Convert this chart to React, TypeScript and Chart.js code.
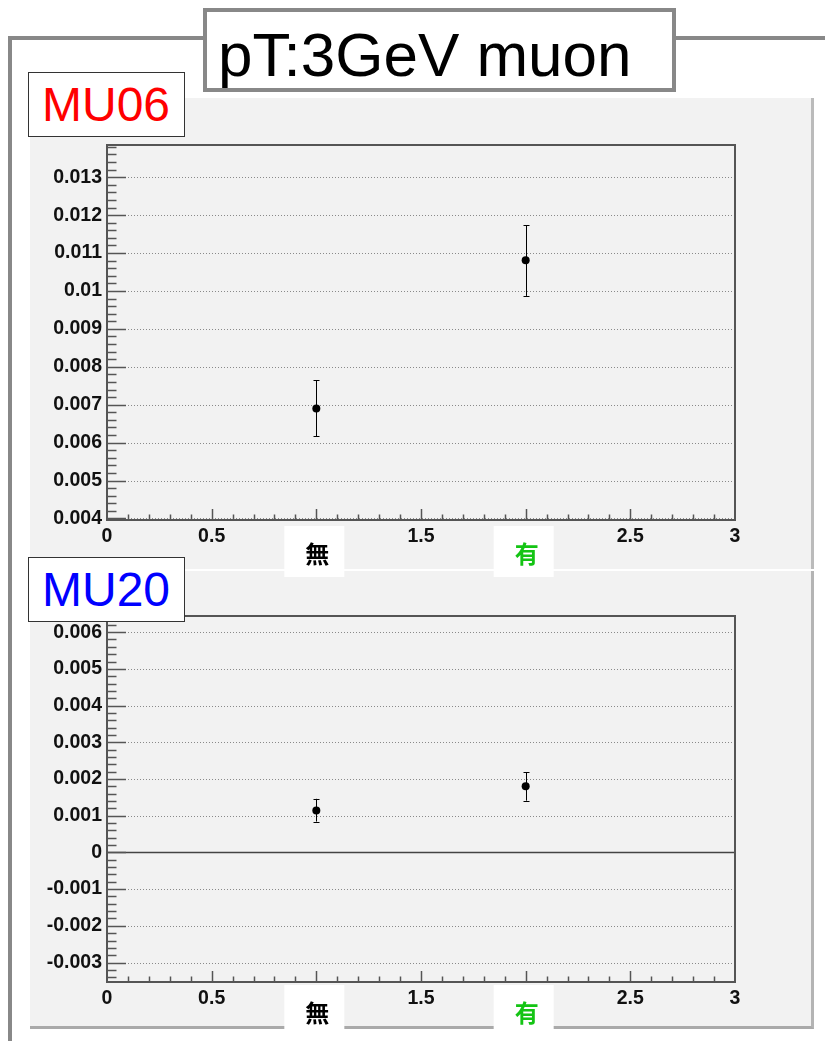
import React, { useEffect, useRef } from "react";
import { Chart, registerables } from "chart.js";

Chart.register(...registerables);

// ---- data ----
const xTickValues = [0, 0.5, 1.5, 2.5, 3];
const xTickLabels = ["0", "0.5", "1.5", "2.5", "3"];
const categories = ["無", "有"];
const categoryX = [1, 2];
const categoryColors = ["#000000", "#14c414"];

const mu06Values = [0.0069, 0.01081];
const mu06ErrLow = [0.00617, 0.00987];
const mu06ErrHigh = [0.00765, 0.01173];
const mu06YTicks = [0.004, 0.005, 0.006, 0.007, 0.008, 0.009, 0.01, 0.011, 0.012, 0.013];
const mu06YLabels = ["0.004", "0.005", "0.006", "0.007", "0.008", "0.009", "0.01", "0.011", "0.012", "0.013"];
const mu06YRange = [0.00396, 0.01385];

const mu20Values = [0.00114, 0.0018];
const mu20ErrLow = [0.00084, 0.00141];
const mu20ErrHigh = [0.00146, 0.00218];
const mu20YTicks = [-0.003, -0.002, -0.001, 0, 0.001, 0.002, 0.003, 0.004, 0.005, 0.006];
const mu20YLabels = ["-0.003", "-0.002", "-0.001", "0", "0.001", "0.002", "0.003", "0.004", "0.005", "0.006"];
const mu20YRange = [-0.00353, 0.00644];

const TICK_FONT = { family: '"Liberation Sans", Arial, sans-serif', size: 19.5, weight: "bold" as const };

type PanelProps = {
  values: number[];
  lows: number[];
  highs: number[];
  yTicks: number[];
  yLabels: string[];
  yRange: number[];
  height: number;
  padTop: number;
  padBottom: number;
  boxTop: number;
  textOffset: number;
  zeroLine: boolean;
};

function Panel(p: PanelProps) {
  const ref = useRef<HTMLCanvasElement | null>(null);
  useEffect(() => {
    if (!ref.current) return;
    const rootPlugin = {
      id: "rootStyle",
      beforeDatasetsDraw(chart: any) {
        const ctx = chart.ctx;
        const a = chart.chartArea;
        const xs = chart.scales.x;
        const ys = chart.scales.y;
        ctx.save();
        // grid lines
        p.yTicks.forEach((v) => {
          const y = Math.round(ys.getPixelForValue(v)) + 0.5;
          ctx.beginPath();
          if (p.zeroLine && v === 0) {
            ctx.setLineDash([]);
            ctx.strokeStyle = "#444";
            ctx.lineWidth = 1.5;
          } else {
            ctx.setLineDash([1, 2]);
            ctx.strokeStyle = "#8a8a8a";
            ctx.lineWidth = 1;
          }
          ctx.moveTo(a.left, y);
          ctx.lineTo(a.right, y);
          ctx.stroke();
        });
        ctx.setLineDash([]);
        // error bars
        ctx.strokeStyle = "#000";
        ctx.lineWidth = 1;
        p.values.forEach((_, i) => {
          const x = Math.round(xs.getPixelForValue(categoryX[i])) + 0.5;
          const y1 = ys.getPixelForValue(p.lows[i]);
          const y2 = ys.getPixelForValue(p.highs[i]);
          ctx.beginPath();
          ctx.moveTo(x, y1);
          ctx.lineTo(x, y2);
          ctx.moveTo(x - 3, Math.round(y1) + 0.5);
          ctx.lineTo(x + 3, Math.round(y1) + 0.5);
          ctx.moveTo(x - 3, Math.round(y2) + 0.5);
          ctx.lineTo(x + 3, Math.round(y2) + 0.5);
          ctx.stroke();
        });
        ctx.restore();
      },
      afterDraw(chart: any) {
        const ctx = chart.ctx;
        const a = chart.chartArea;
        const xs = chart.scales.x;
        const ys = chart.scales.y;
        ctx.save();
        ctx.strokeStyle = "#555";
        ctx.lineWidth = 1.5;
        // inner ticks on y
        const minor = 0.0002;
        const start = Math.ceil(p.yRange[0] / minor - 1e-6);
        const end = Math.floor(p.yRange[1] / minor + 1e-6);
        for (let k = start; k <= end; k++) {
          const y = Math.round(ys.getPixelForValue(k * minor)) + 0.5;
          const len = k % 5 === 0 ? 19 : 9.5;
          ctx.beginPath();
          ctx.moveTo(a.left, y);
          ctx.lineTo(a.left + len, y);
          ctx.stroke();
        }
        // inner ticks on x
        for (let k = 1; k < 30; k++) {
          const x = Math.round(xs.getPixelForValue(k * 0.1)) + 0.5;
          const len = k % 5 === 0 ? 11 : 5.5;
          ctx.beginPath();
          ctx.moveTo(x, a.bottom);
          ctx.lineTo(x, a.bottom - len);
          ctx.stroke();
        }
        // frame
        ctx.lineWidth = 2;
        ctx.strokeStyle = "#555";
        ctx.strokeRect(a.left, a.top, a.right - a.left, a.bottom - a.top);
        // category boxes
        categories.forEach((c, i) => {
          const x = xs.getPixelForValue(categoryX[i]);
          ctx.fillStyle = "#ffffff";
          ctx.fillRect(x - 32, a.bottom + p.boxTop, 60, 51);
          ctx.fillStyle = categoryColors[i];
          ctx.font = 'bold 24px "Noto Sans CJK JP", sans-serif';
          ctx.textAlign = "center";
          ctx.textBaseline = "middle";
          ctx.fillText(c, x + 1, a.bottom + p.textOffset);
        });
        ctx.restore();
      },
    };
    const chart = new Chart(ref.current, {
      type: "scatter",
      data: {
        datasets: [
          {
            data: p.values.map((v, i) => ({ x: categoryX[i], y: v })),
            pointRadius: 4,
            pointBackgroundColor: "#000",
            pointBorderWidth: 0,
            showLine: false,
          },
        ],
      },
      options: {
        animation: false,
        responsive: false,
        maintainAspectRatio: false,
        devicePixelRatio: 1,
        layout: { padding: { left: 47, right: 90, top: p.padTop, bottom: p.padBottom } },
        plugins: { legend: { display: false }, tooltip: { enabled: false } },
        scales: {
          x: {
            type: "linear",
            min: 0,
            max: 3,
            grid: { display: false, drawTicks: false },
            border: { display: false },
            afterBuildTicks: (s: any) => {
              s.ticks = xTickValues.map((v) => ({ value: v }));
            },
            afterFit: (s: any) => {
              s.height = 30;
            },
            ticks: {
              autoSkip: false,
              maxRotation: 0,
              padding: 5,
              color: "#111",
              font: TICK_FONT,
              callback: (_v: any, i: number) => xTickLabels[i],
            },
          },
          y: {
            type: "linear",
            min: p.yRange[0],
            max: p.yRange[1],
            grid: { display: false, drawTicks: false },
            border: { display: false },
            afterBuildTicks: (s: any) => {
              s.ticks = p.yTicks.map((v) => ({ value: v }));
            },
            afterFit: (s: any) => {
              s.width = 60;
            },
            ticks: {
              autoSkip: false,
              padding: 5,
              color: "#111",
              font: TICK_FONT,
              callback: (_v: any, i: number) => p.yLabels[i],
            },
          },
        },
      },
      plugins: [rootPlugin],
    } as any);
    return () => chart.destroy();
  }, []);
  return <canvas ref={ref} width={825} height={p.height} style={{ width: 825, height: p.height, display: "block" }} />;
}

export default function App() {
  const abs = (s: React.CSSProperties): React.CSSProperties => ({ position: "absolute", boxSizing: "border-box", ...s });
  return (
    <div style={{ position: "fixed", left: 0, top: 0, width: 825, height: 1041, background: "#fff", overflow: "hidden", fontFamily: '"Liberation Sans", Arial, sans-serif' }}>
      {/* outer frame */}
      <div style={abs({ left: 8, top: 36, width: 830, height: 1020, borderLeft: "4px solid #888", borderTop: "4px solid #888" })} />
      {/* pads */}
      <div style={abs({ left: 30, top: 98, width: 784, height: 471, background: "#f2f2f2", borderRight: "3px solid #bbb" })} />
      <div style={abs({ left: 30, top: 571, width: 784, height: 458, background: "#f2f2f2", borderRight: "3px solid #b4b4b4", borderBottom: "3px solid #aaa" })} />
      {/* charts */}
      <div style={abs({ left: 0, top: 98 })}>
        <Panel values={mu06Values} lows={mu06ErrLow} highs={mu06ErrHigh} yTicks={mu06YTicks} yLabels={mu06YLabels} yRange={mu06YRange}
          height={482} padTop={47} padBottom={30} boxTop={6} textOffset={34} zeroLine={false} />
      </div>
      <div style={abs({ left: 0, top: 572 })}>
        <Panel values={mu20Values} lows={mu20ErrLow} highs={mu20ErrHigh} yTicks={mu20YTicks} yLabels={mu20YLabels} yRange={mu20YRange}
          height={469} padTop={44} padBottom={29} boxTop={3} textOffset={31} zeroLine={true} />
      </div>
      {/* title */}
      <div style={abs({ left: 203, top: 8, width: 473, height: 84, background: "#fff", border: "4px solid #888", paddingLeft: 11, fontSize: 62, lineHeight: "86px", color: "#000", whiteSpace: "nowrap", overflow: "hidden" })}>
        pT:3GeV muon
      </div>
      {/* pad labels */}
      <div style={abs({ left: 28, top: 72, width: 157, height: 65, background: "#fff", border: "1.5px solid #333", paddingLeft: 13, fontSize: 48, lineHeight: "64px", color: "#ff0000" })}>
        MU06
      </div>
      <div style={abs({ left: 28, top: 557, width: 157, height: 65, background: "#fff", border: "1.5px solid #333", paddingLeft: 13, fontSize: 48, lineHeight: "64px", color: "#0000ff" })}>
        MU20
      </div>
    </div>
  );
}
